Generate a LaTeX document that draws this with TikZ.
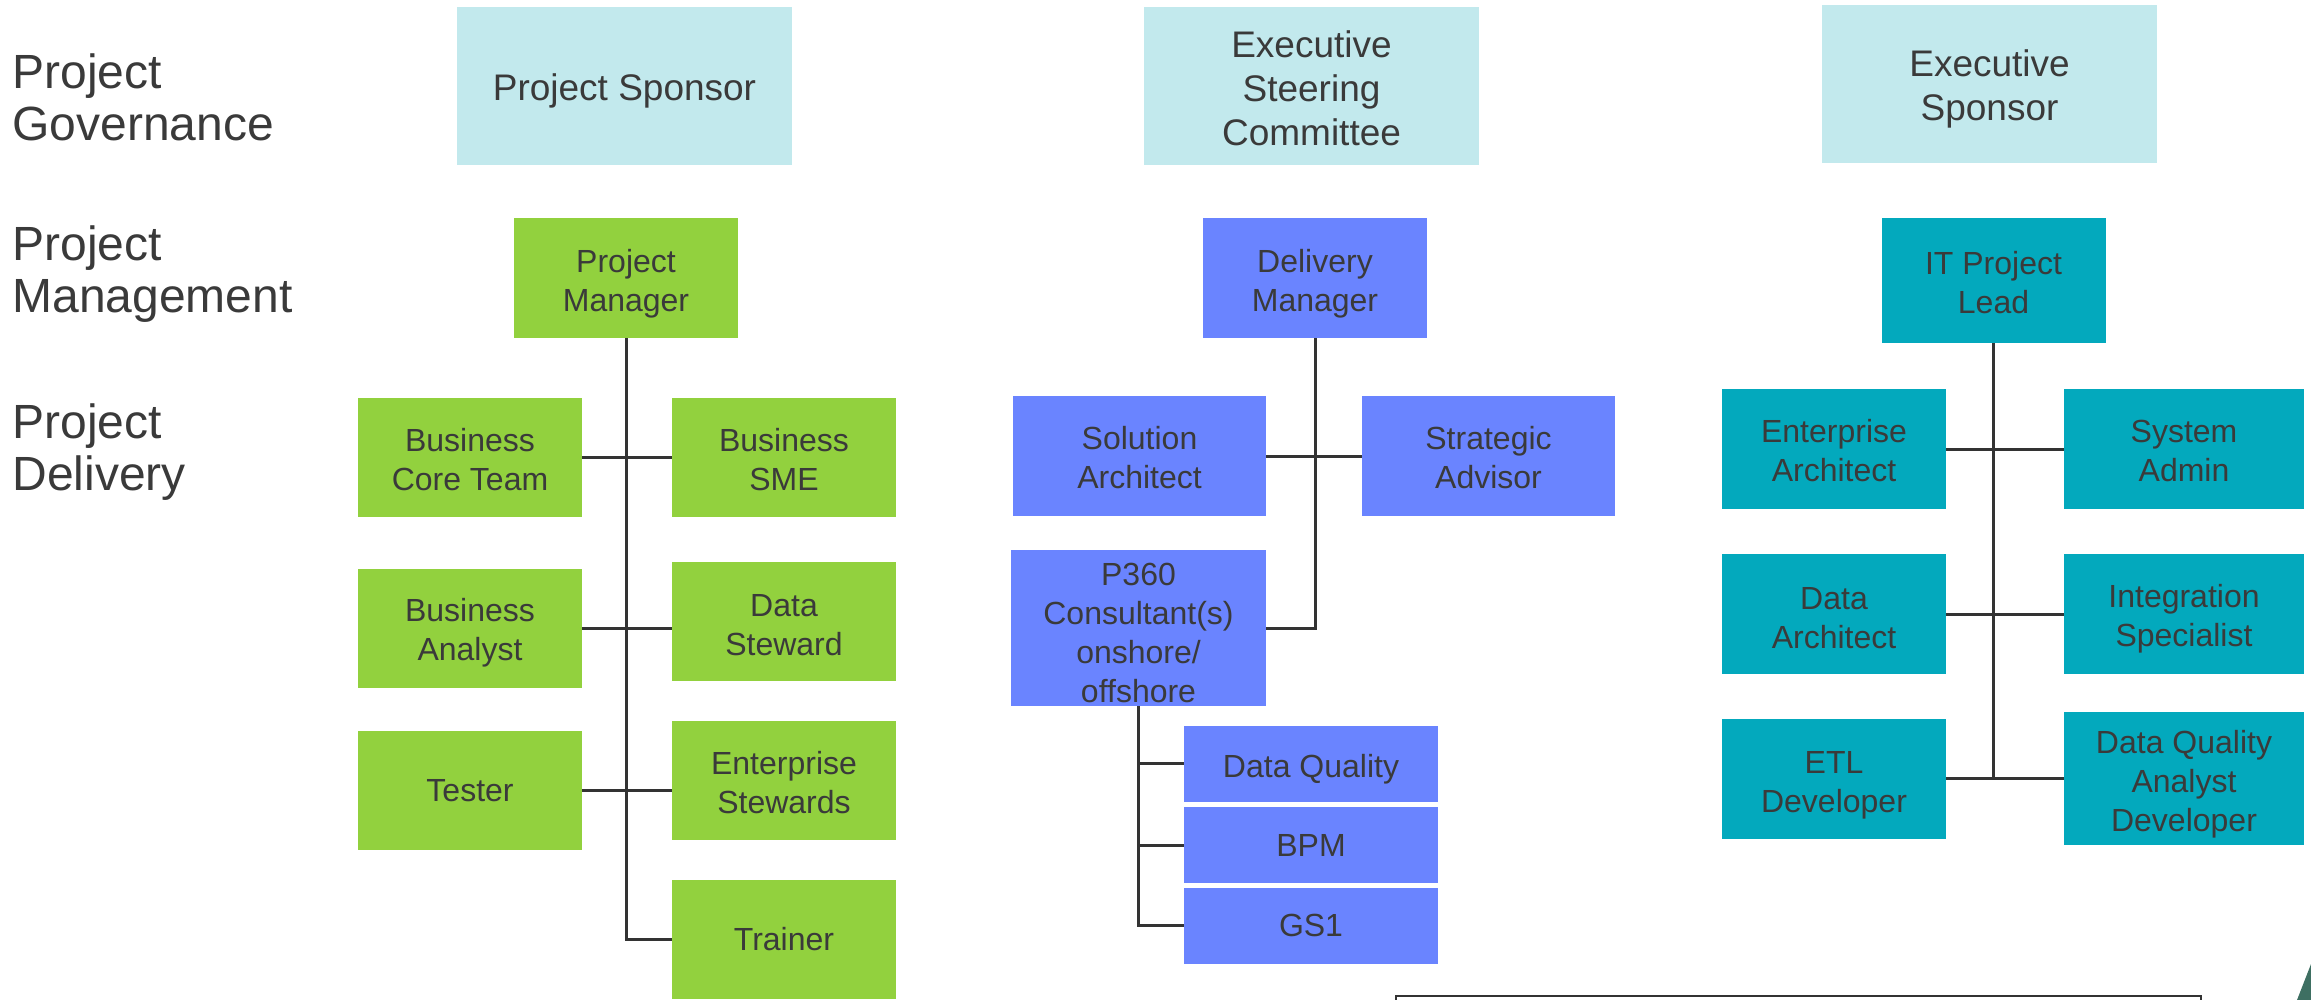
\documentclass[tikz,border=0pt]{standalone}
\usepackage{fontspec}
\setmainfont{Liberation Sans}
\usepackage{tikz}
\usetikzlibrary{positioning}

\definecolor{govcyan}{HTML}{C2E9ED}
\definecolor{pmgreen}{HTML}{92D13E}
\definecolor{dmblue}{HTML}{6A84FF}
\definecolor{itteal}{HTML}{03A9BD}
\definecolor{inkgray}{HTML}{3A3A3A}
\definecolor{linegray}{HTML}{333333}
\definecolor{cornerteal}{HTML}{3E6F62}

% pushes the text of a box down a little
\newcommand\boxlift[1]{\rule{0pt}{#1}}

\begin{document}
\begin{tikzpicture}[x=0.5pt, y=-0.5pt,
  box/.style={rectangle, inner sep=0pt, align=center, text=inkgray,
    font=\fontsize{16}{19.5}\selectfont},
  govbox/.style={box, fill=govcyan, minimum width=167.5pt, minimum height=79pt,
    font=\fontsize{18.5}{22}\selectfont},
  pmbox/.style={box, fill=pmgreen, minimum width=112pt, minimum height=59.5pt},
  dmbox/.style={box, fill=dmblue, minimum width=126.5pt, minimum height=60pt},
  itbox/.style={box, fill=itteal, minimum width=112pt, minimum height=60pt},
  tier/.style={anchor=west, inner sep=0pt, align=left, text=inkgray,
    font=\fontsize{24}{26}\selectfont},
  conn/.style={draw=linegray, line width=1.5pt}]
  \useasboundingbox (0,0) rectangle (2311,1000);

  % row labels
  \node[tier] at (12,97) (gov-label) {Project\\Governance};
  \node[tier] at (12,274) (mgmt-label) {Project\\Management};
  \node[tier] at (12,452) (dlv-label) {Project\\Delivery};

  % governance
  \node[govbox] at (624.5,86) (sponsor) {\boxlift{18.5pt}Project Sponsor};
  \node[govbox] at (1311.5,86) (steering) {\boxlift{15.7pt}Executive\\Steering\\Committee};
  \node[govbox] at (1989.5,84) (exec-sponsor) {\boxlift{18.7pt}Executive\\Sponsor};

  % business side
  \node[pmbox] at (626,278) (pm) {\boxlift{17.7pt}Project\\Manager};
  \node[pmbox] at (470,457.5) (core-team) {\boxlift{13.2pt}Business\\Core Team};
  \node[pmbox] at (784,457.5) (sme) {\boxlift{13.2pt}Business\\SME};
  \node[pmbox] at (470,628) (analyst) {\boxlift{16.1pt}Business\\Analyst};
  \node[pmbox] at (784,621.5) (steward) {\boxlift{14.7pt}Data\\Steward};
  \node[pmbox] at (470,790.5) (tester) {Tester};
  \node[pmbox] at (784,780.5) (ent-stewards) {\boxlift{13.2pt}Enterprise\\Stewards};
  \node[pmbox] at (784,939.5) (trainer) {Trainer};

  \draw[conn] (pm.south) |- (trainer.west);
  \draw[conn] (core-team.east) -- (sme.west);
  \draw[conn] (analyst.east) -- (analyst.east -| steward.west);
  \draw[conn] (tester.east) -- (tester.east -| ent-stewards.west);

  % delivery side
  \node[dmbox, minimum width=112pt] at (1315,278) (dm) {\boxlift{17.7pt}Delivery\\Manager};
  \node[dmbox] at (1139.5,456) (sol-arch) {\boxlift{13.2pt}Solution\\Architect};
  \node[dmbox] at (1488.5,456) (strategic) {\boxlift{13.2pt}Strategic\\Advisor};
  \node[dmbox, minimum width=127.5pt, minimum height=78pt] at (1138.5,628) (p360) {\boxlift{16.1pt}P360\\Consultant(s)\\onshore/\\offshore};
  \node[dmbox, minimum width=127pt, minimum height=38pt] at (1311,763.5) (dq) {\boxlift{17.7pt}Data Quality};
  \node[dmbox, minimum width=127pt, minimum height=38pt] at (1311,845) (bpm) {BPM};
  \node[dmbox, minimum width=127pt, minimum height=38pt] at (1311,925.5) (gs1) {GS1};

  \draw[conn] (dm.south) |- (p360.east);
  \draw[conn] (sol-arch.east) -- (strategic.west);
  \draw[conn] (p360.south) |- (gs1.west);
  \draw[conn] (p360.south |- dq.west) -- (dq.west);
  \draw[conn] (p360.south |- bpm.west) -- (bpm.west);

  % IT side
  \node[itbox, minimum height=62.5pt] at (1993.5,280.5) (it-lead) {\boxlift{13.2pt}IT Project\\Lead};
  \node[itbox] at (1834,449) (ent-arch) {\boxlift{13.2pt}Enterprise\\Architect};
  \node[itbox, minimum width=120pt] at (2184,449) (sys-admin) {\boxlift{13.2pt}System\\Admin};
  \node[itbox] at (1834,614) (data-arch) {\boxlift{14.7pt}Data\\Architect};
  \node[itbox, minimum width=120pt] at (2184,614) (integration) {\boxlift{16.1pt}Integration\\Specialist};
  \node[itbox] at (1834,778.5) (etl) {\boxlift{17.7pt}ETL\\Developer};
  \node[itbox, minimum width=120pt, minimum height=66.5pt] at (2184,778.5) (dq-analyst) {\boxlift{17.7pt}Data Quality\\Analyst\\Developer};

  \draw[conn] (it-lead.south) -- (it-lead.south |- dq-analyst.west);
  \draw[conn] (ent-arch.east) -- (sys-admin.west);
  \draw[conn] (data-arch.east) -- (integration.west);
  \draw[conn] (etl.east) -- (dq-analyst.west);

  % cut-off bits at the bottom edge
  \coordinate (frame-l) at (1396,1000);
  \coordinate (frame-r) at (2201,1000);
  \draw[linegray, line width=0.9pt] (frame-l) |- (2201,996) -- (frame-r);
  \fill[cornerteal] (2297,1000) -- (2311,964) -- (2311,1000) -- cycle;
\end{tikzpicture}
\end{document}
